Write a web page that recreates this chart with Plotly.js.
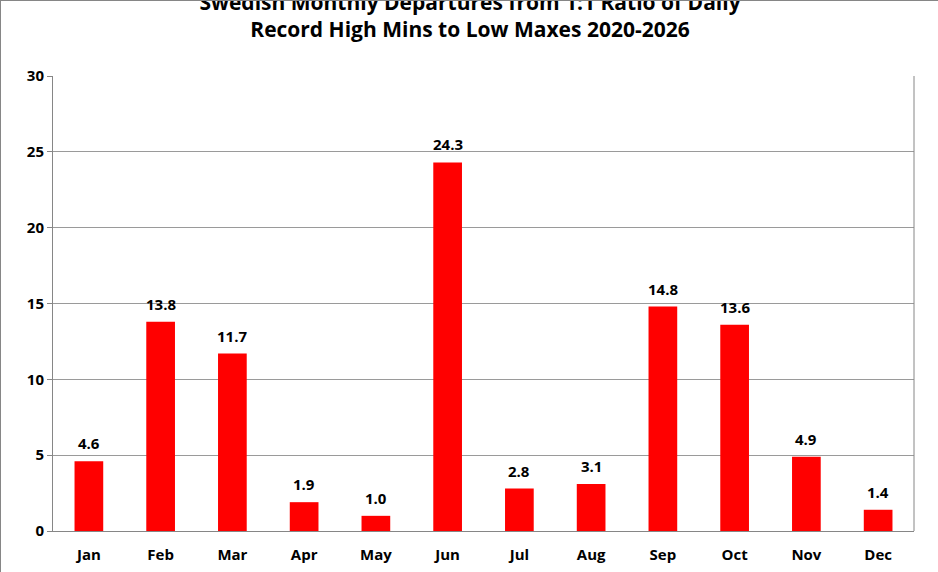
<!DOCTYPE html>
<html>
<head>
<script src="https://cdn.plot.ly/plotly-3.0.1.min.js"></script>
<style>body{margin:0}#plot{width:938px;height:572px}</style>
</head>
<body>
<div id="plot"></div>
<script>
const months = ["Jan","Feb","Mar","Apr","May","Jun","Jul","Aug","Sep","Oct","Nov","Dec"]
const departures = [4.6, 13.8, 11.7, 1.9, 1.0, 24.3, 2.8, 3.1, 14.8, 13.6, 4.9, 1.4]

const data = [{
    x: months,
    y: departures,
    type: "bar",
    marker: {color: "#ff0000"},
    hoverinfo: "x+y"
}]

const labels = months.map((m, i) => ({
    x: m, y: departures[i], xref: "x", yref: "y",
    text: "<b>" + departures[i].toFixed(1) + "</b>",
    showarrow: false, yanchor: "bottom", yshift: 6,
    font: {family: "Open Sans", size: 15, color: "#000"}
}))

const layout = {
    width: 938,
    height: 572,
    margin: {l: 52, r: 25, t: 75, b: 42},
    bargap: 0.6,
    paper_bgcolor: "#fff",
    plot_bgcolor: "#fff",
    font: {family: "Open Sans", size: 14, color: "#000"},
    title: {
        text: "<b>Swedish Monthly Departures from 1:1 Ratio of Daily<br>Record High Mins to Low Maxes 2020-2026</b>",
        x: 0.5, xanchor: "center", y: 0.985, yanchor: "top",
        font: {family: "Open Sans", size: 21, color: "#000"}
    },
    xaxis: {
        showline: true, linecolor: "#868686", ticks: "", ticklabelstandoff: 10,
        tickfont: {family: "Open Sans", size: 15, color: "#000", weight: "bold"}
    },
    yaxis: {
        range: [0, 30], dtick: 5, showline: true, linecolor: "#868686",
        gridcolor: "#9a9a9a", ticks: "outside", ticklen: 5, tickcolor: "#868686",
        tickfont: {family: "Open Sans", size: 15, color: "#000", weight: "bold"},
        zeroline: false
    },
    annotations: labels,
    shapes: [
        {type: "line", xref: "paper", yref: "paper", x0: 1, x1: 1, y0: 0, y1: 1, line: {color: "#868686", width: 1}}
    ]
}

Plotly.newPlot("plot", data, layout, {displayModeBar: false})

document.getElementById("plot").style.boxSizing = "border-box"
document.getElementById("plot").style.border = "1px solid #868686"
</script>
</body>
</html>
